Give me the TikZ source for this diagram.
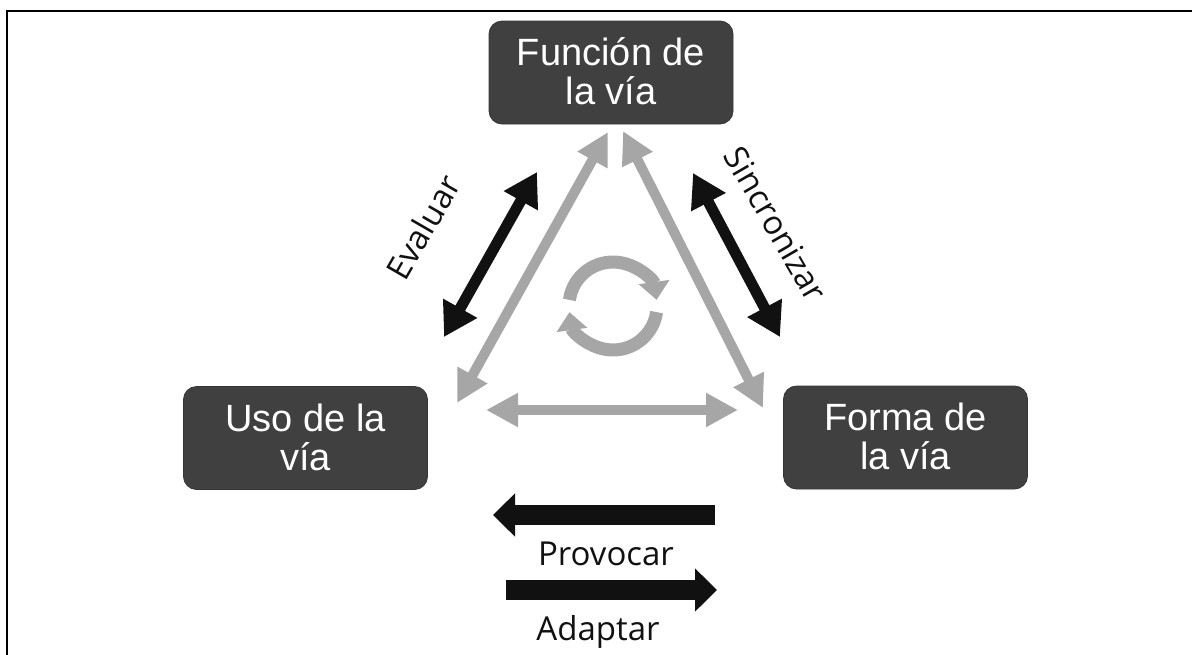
\documentclass[tikz,border=0pt]{standalone}
\usepackage{fontspec}
\usetikzlibrary{arrows.meta}
\setmainfont{Liberation Sans}
\newfontfamily\boxfont{Liberation Sans}
\newfontfamily\lblfont{Open Sans}
\definecolor{boxgray}{RGB}{64,64,64}
\definecolor{arrgray}{RGB}{166,166,166}
\definecolor{inkblack}{RGB}{17,17,17}
\begin{document}
\begin{tikzpicture}[x=1pt,y=-1pt,
  roadbox/.style={draw=boxgray!85!black, line width=0.8pt, fill=boxgray, rounded corners=13pt,
    minimum width=244pt, minimum height=103pt, inner sep=0pt, align=center, text=white,
    font=\boxfont\fontsize{38}{39}\selectfont},
  grayarr/.style={draw=arrgray, line width=10pt,
    {Triangle[length=32pt,width=32pt]}-{Triangle[length=32pt,width=32pt]}},
  blkarr/.style={draw=inkblack, line width=11pt,
    {Triangle[length=33pt,width=37pt]}-{Triangle[length=33pt,width=37pt]}},
  flatarr/.style={draw=inkblack, line width=20pt, -{Triangle[length=22pt,width=42pt]}},
  cycarr/.style={draw=arrgray, line width=13pt, -{Triangle[length=18pt,width=30pt]}},
  lbl/.style={font=\lblfont\fontsize{33}{36}\selectfont, text=inkblack, inner sep=0pt},
  frameline/.style={draw=black, line width=2pt}]
\useasboundingbox (0,0) rectangle (1192,654);
% frame
\draw[frameline] (7,655) -- (7,11) -- (1193,11);
% boxes
\node[roadbox] (fun) at (611,72.5) {\rule{0pt}{25pt}\smash{Función de}\\\smash{la vía}};
\node[roadbox] (uso) at (305.5,438) {\rule{0pt}{25pt}\smash{Uso de la}\\\smash{vía}};
\node[roadbox] (forma) at (905.5,437.5) {\rule{0pt}{25pt}\smash{Forma de}\\\smash{la vía}};
% arrow end points
\coordinate (glt) at (608,132);
\coordinate (glb) at (457,403);
\coordinate (grt) at (623,131);
\coordinate (grb) at (763,408);
\coordinate (gbl) at (486,410);
\coordinate (gbr) at (738,410);
\coordinate (elb) at (444,337);
\coordinate (elt) at (537,172);
\coordinate (srt) at (693,173);
\coordinate (srb) at (780,337);
\coordinate (prs) at (715,515);
\coordinate (pre) at (493,515);
\coordinate (ads) at (506,590);
\coordinate (ade) at (717,590);
\coordinate (cyc) at (613,306);
% gray triangle
\draw[grayarr] (glb) -- (glt);
\draw[grayarr] (grt) -- (grb);
\draw[grayarr] (gbl) -- (gbr);
% cycle
\draw[cycarr] ([shift={(188:44)}]cyc) arc[start angle=188, end angle=352, radius=44];
\draw[cycarr] ([shift={(8:44)}]cyc) arc[start angle=8, end angle=172, radius=44];
% black arrows
\draw[blkarr] (elb) -- (elt);
\draw[blkarr] (srt) -- (srb);
\node[lbl, rotate=60] (eval) at (423,227) {Evaluar};
\node[lbl, rotate=-60] (sinc) at (776,224) {Sincronizar};
\draw[flatarr] (prs) -- (pre);
\draw[flatarr] (ads) -- (ade);
\node[lbl, anchor=base] (prov) at (606,565) {Provocar};
\node[lbl, anchor=base] (adap) at (598,640) {Adaptar};
\end{tikzpicture}
\end{document}
